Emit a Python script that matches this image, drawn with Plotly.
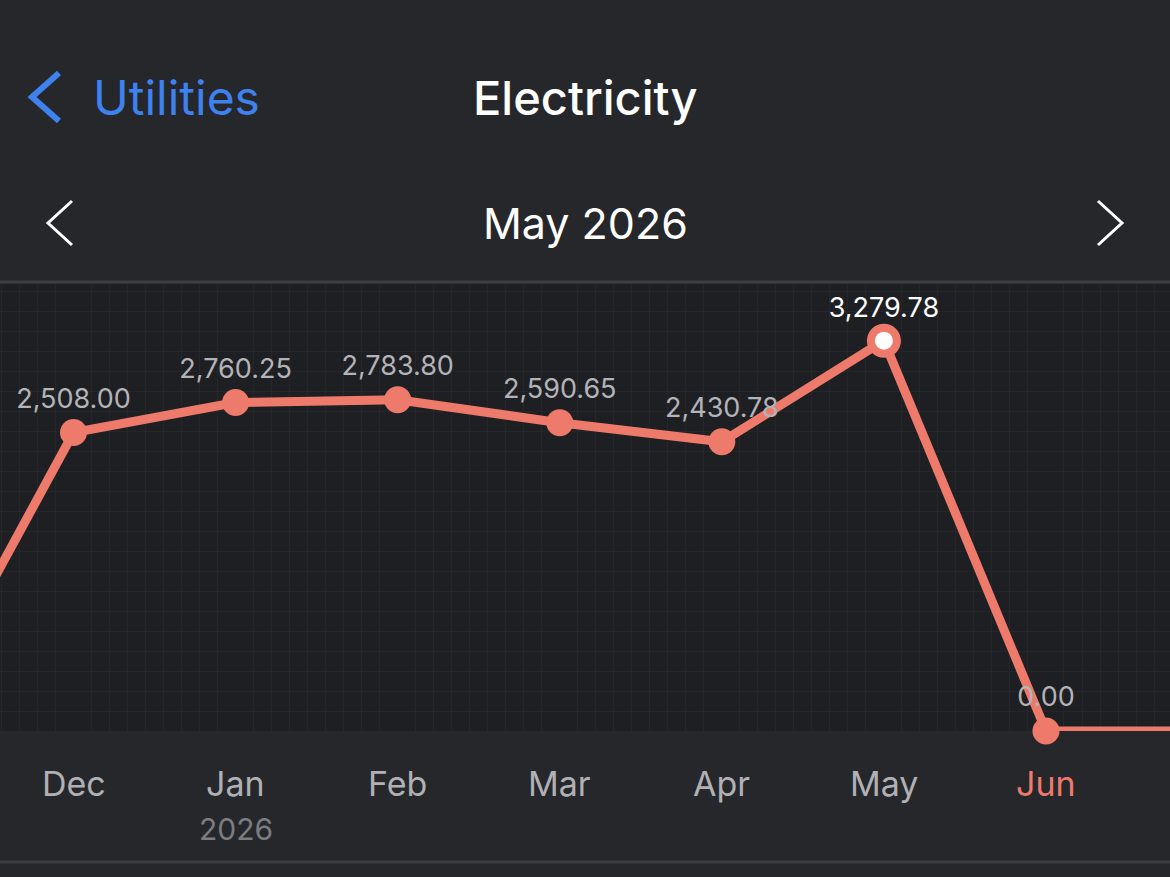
import plotly.graph_objects as go

# ---- data ----
months = ["Nov", "Dec", "Jan", "Feb", "Mar", "Apr", "May", "Jun", "Jul"]
values = [0.0, 2508.00, 2760.25, 2783.80, 2590.65, 2430.78, 3279.78, 0.00, 0.00]
shown_labels = [False, True, True, True, True, True, True, True, False]
year_labels = ["", "", "2026", "", "", "", "", "", ""]
selected_month = "May"
current_month = "Jun"

title = "Electricity"
back_label = "Utilities"
period = "May 2026"

# ---- style ----
W, H = 1170, 877
PLOT_TOP, PLOT_BOT = 284, 731
SALMON = "#ee7a6b"
PAPER = "#26272b"
PLOT_BG = "#1e1f23"
GRID = "#25262a"
FONT = "Inter"

def pxx(p):
    return p / W

def pxy(p):
    return (PLOT_BOT - p) / (PLOT_BOT - PLOT_TOP)

xs = list(range(len(months)))
texts = [f"{v:,.2f}" if s else "" for v, s in zip(values, shown_labels)]
text_colors = ["#ffffff" if m == selected_month else "#b3b3b8" for m in months]
marker_fill = ["#ffffff" if m == selected_month else SALMON for m in months]
marker_size = [26 if m == selected_month else 27 for m in months]
marker_lw = [8 if m == selected_month else 0 for m in months]

fig = go.Figure()
fig.add_trace(go.Scatter(
    x=xs, y=values, mode="lines+markers+text",
    line=dict(color=SALMON, width=9),
    marker=dict(color=marker_fill, size=marker_size, opacity=1,
                line=dict(color=SALMON, width=marker_lw)),
    text=texts, textposition="top center",
    textfont=dict(family=FONT, size=27, color=text_colors),
    cliponaxis=False, hoverinfo="skip", showlegend=False,
))

x0 = 1 - 73.5 / 162.08
x1 = 1 + (W - 73.5) / 162.08
y_per_px = 1 / 0.119
y_top = (PLOT_BOT - PLOT_TOP) * y_per_px

fig.update_layout(
    width=W, height=H,
    margin=dict(l=0, r=0, t=PLOT_TOP, b=H - PLOT_BOT, pad=0),
    paper_bgcolor=PAPER, plot_bgcolor=PLOT_BG,
    font=dict(family=FONT),
    xaxis=dict(range=[x0, x1], showticklabels=False, zeroline=False,
               showgrid=False, fixedrange=True,
               minor=dict(showgrid=True, gridcolor=GRID, gridwidth=1,
                          tick0=0, dtick=1 / 9)),
    yaxis=dict(range=[0, y_top], showticklabels=False, zeroline=False,
               showgrid=True, gridcolor=GRID, gridwidth=1,
               tick0=0, dtick=20 * y_per_px, fixedrange=True),
)

# month labels
for i, m in enumerate(months):
    col = SALMON if m == current_month else "#b0b0b5"
    fig.add_annotation(x=i, y=pxy(783), xref="x", yref="paper", text=m,
                       showarrow=False, font=dict(family=FONT, size=34, color=col),
                       xanchor="center", yanchor="middle")
    if year_labels[i]:
        fig.add_annotation(x=i, y=pxy(829), xref="x", yref="paper", text=year_labels[i],
                           showarrow=False, font=dict(family=FONT, size=30, color="#7c7c81"),
                           xanchor="center", yanchor="middle")

# header texts
fig.add_annotation(x=pxx(585), y=pxy(98), xref="paper", yref="paper", text=title,
                   showarrow=False, font=dict(family=FONT, size=47, color="#ffffff", weight=500),
                   xanchor="center", yanchor="middle")
fig.add_annotation(x=pxx(91), y=pxy(98), xref="paper", yref="paper", text=back_label,
                   showarrow=False, font=dict(family=FONT, size=48, color="#3d82ef"),
                   xanchor="left", yanchor="middle")
fig.add_annotation(x=pxx(585), y=pxy(223), xref="paper", yref="paper", text=period,
                   showarrow=False, font=dict(family=FONT, size=43, color="#ffffff"),
                   xanchor="center", yanchor="middle")

def chevron(pts, color, width):
    path = "M " + " L ".join(f"{pxx(a)},{pxy(b)}" for a, b in pts)
    fig.add_shape(type="path", path=path, xref="paper", yref="paper",
                  line=dict(color=color, width=width), layer="above")

chevron([(59, 73), (32, 97), (59, 121)], "#3d82ef", 6)
chevron([(72, 201), (48, 223), (72, 245)], "#ffffff", 3)
chevron([(1098, 201), (1122, 223), (1098, 245)], "#ffffff", 3)

# separators
for yy in (282, 862):
    fig.add_shape(type="line", xref="paper", yref="paper",
                  x0=0, x1=1, y0=pxy(yy), y1=pxy(yy),
                  line=dict(color="#3d3e43", width=3), layer="above")

fig.write_html("out.html")
